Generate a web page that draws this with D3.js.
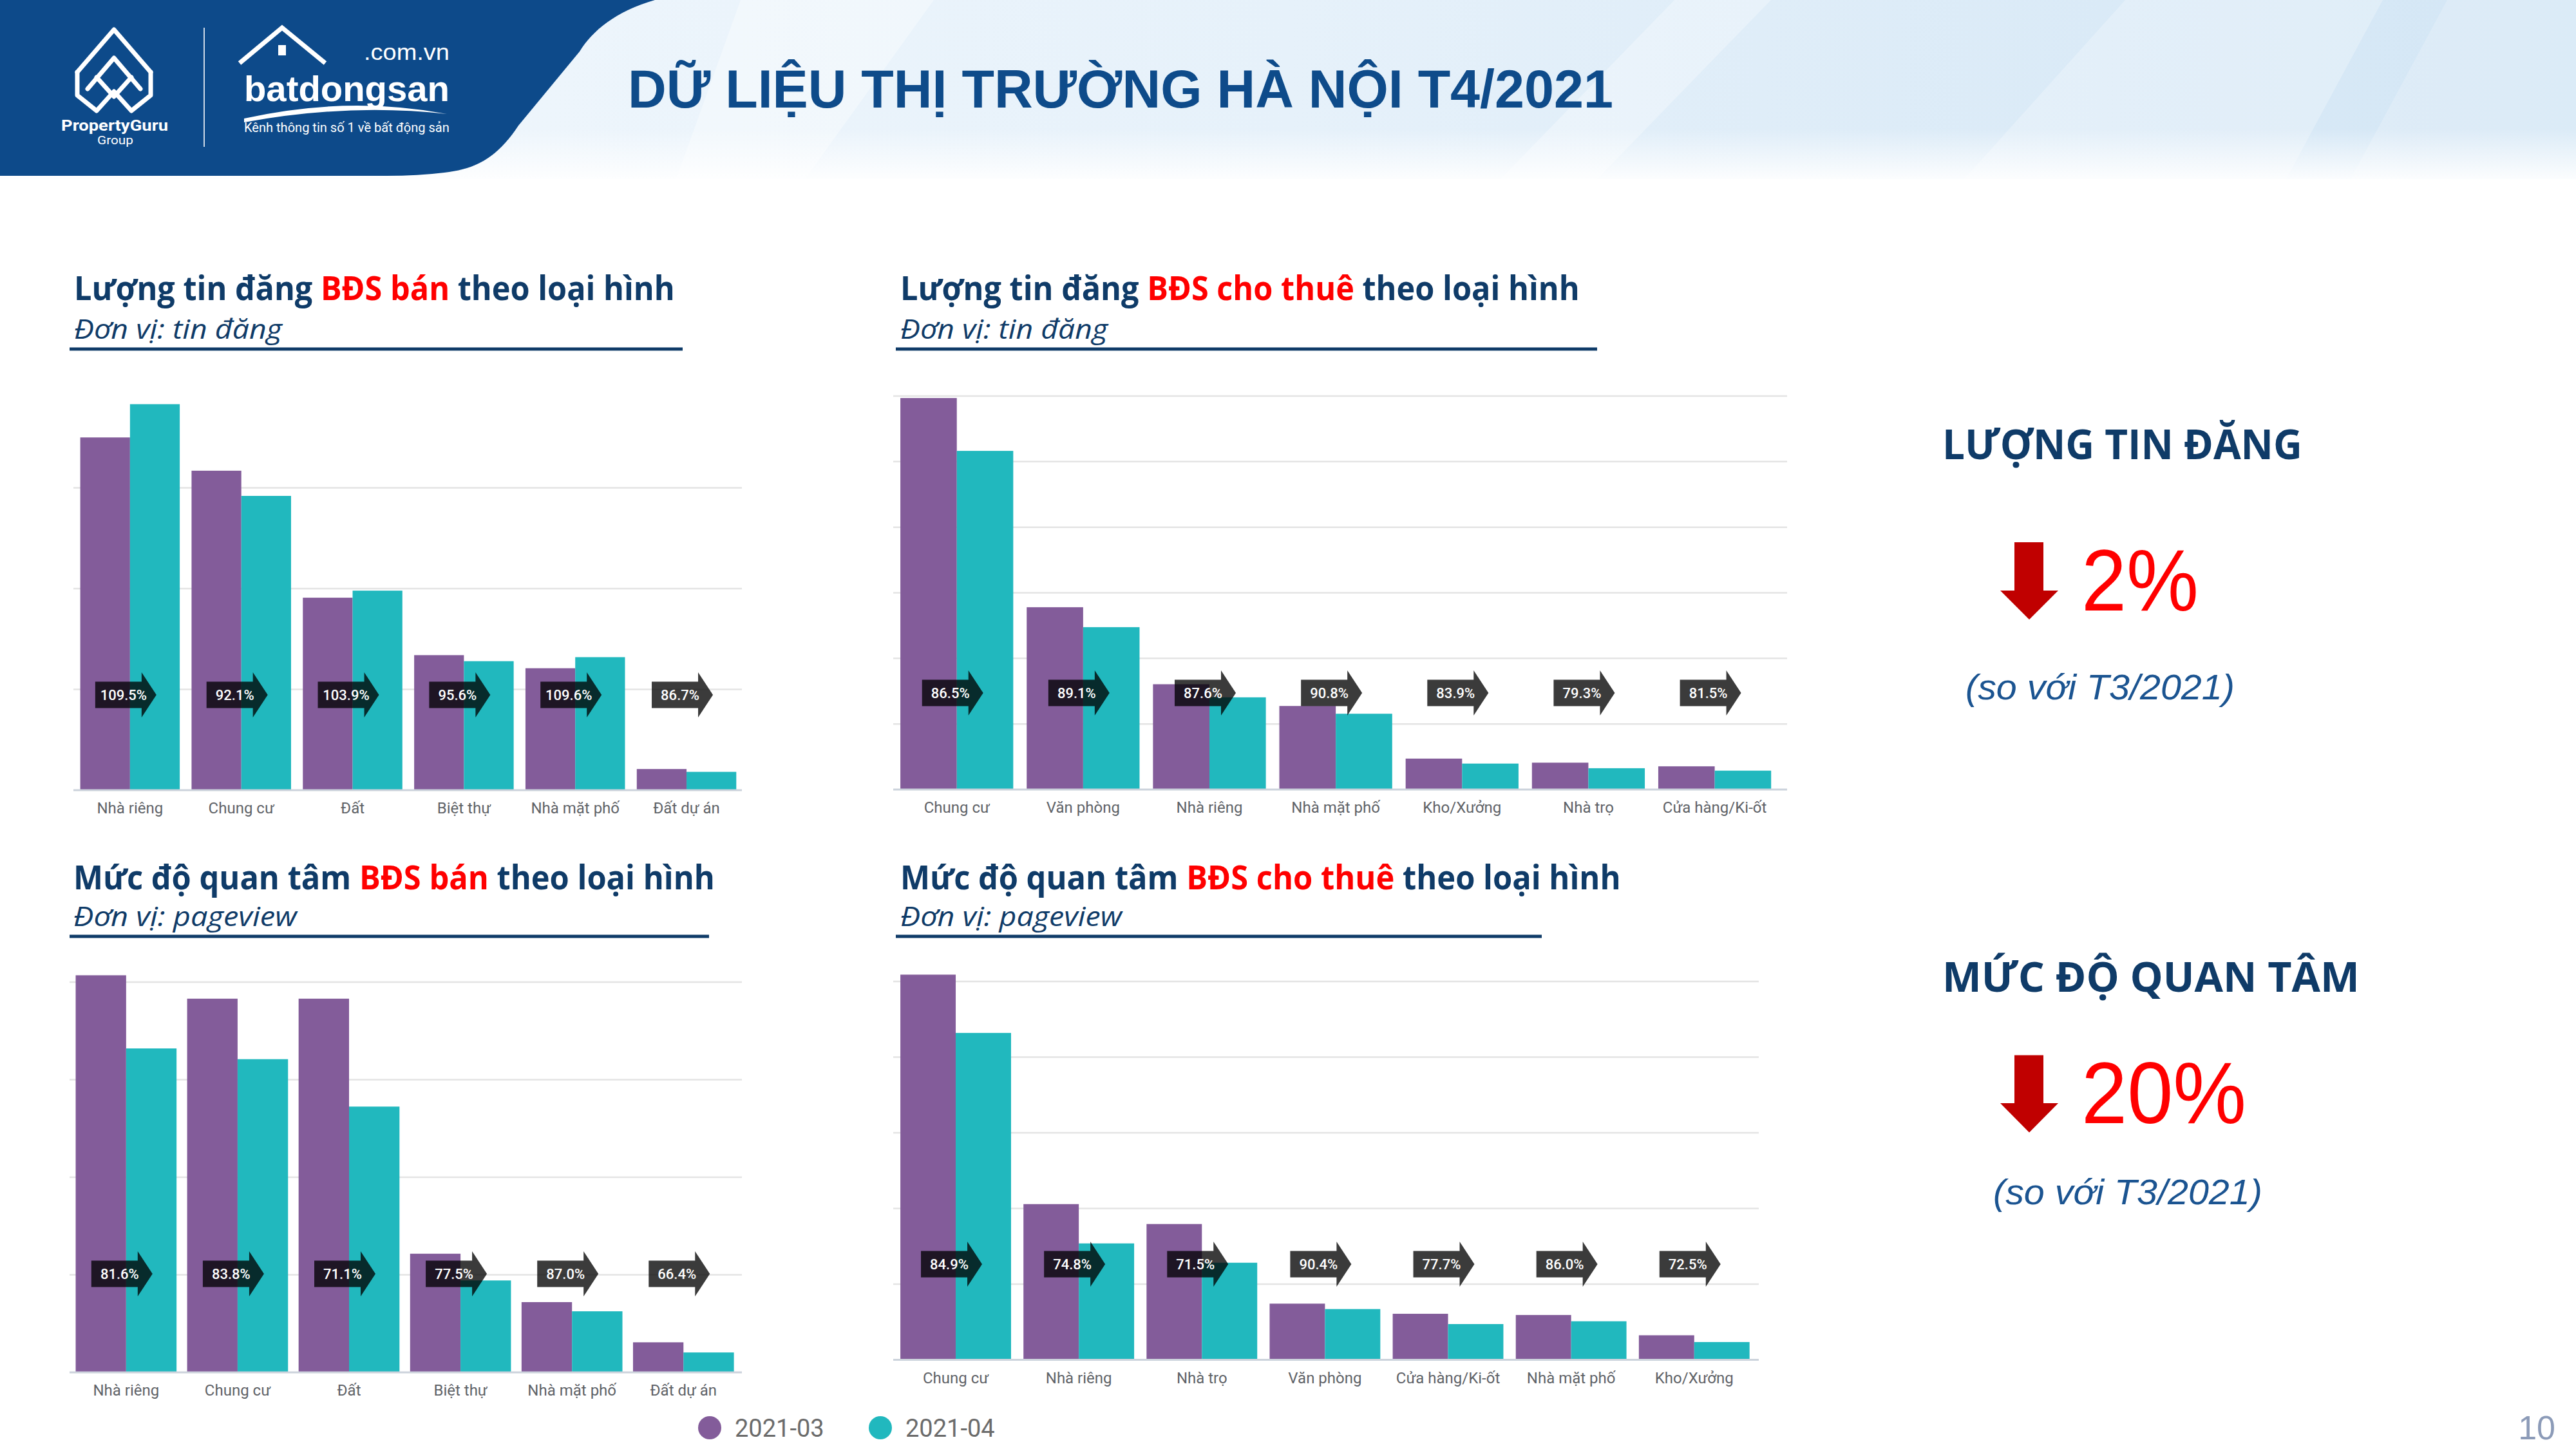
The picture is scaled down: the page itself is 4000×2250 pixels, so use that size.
<!DOCTYPE html>
<html><head><meta charset="utf-8">
<script src="https://cdn.jsdelivr.net/npm/d3@7"></script>
<style>body{margin:0;background:#fff}svg{display:block}</style>
</head><body>
<svg id="c" width="4000" height="2250"></svg>
<script>
// ---------- DATA ----------
const seriesNames = ["2021-03", "2021-04"];

// Chart 1: Lượng tin đăng BĐS bán (tin đăng)
const saleListCats = ["Nhà riêng", "Chung cư", "Đất", "Biệt thự", "Nhà mặt phố", "Đất dự án"];
const saleList03 = [35000, 31700, 19100, 13400, 12100, 2100];
const saleList04 = [38300, 29200, 19800, 12800, 13200, 1820];
const saleListPct = ["109.5%", "92.1%", "103.9%", "95.6%", "109.6%", "86.7%"];
const saleListGrid = [10000, 20000, 30000];

// Chart 2: Lượng tin đăng BĐS cho thuê (tin đăng)
const rentListCats = ["Chung cư", "Văn phòng", "Nhà riêng", "Nhà mặt phố", "Kho/Xưởng", "Nhà trọ", "Cửa hàng/Ki-ốt"];
const rentList03 = [29850, 13900, 8030, 6370, 2360, 2050, 1770];
const rentList04 = [25820, 12380, 7030, 5780, 1980, 1625, 1440];
const rentListPct = ["86.5%", "89.1%", "87.6%", "90.8%", "83.9%", "79.3%", "81.5%"];
const rentListGrid = [5000, 10000, 15000, 20000, 25000, 30000];

// Chart 3: Mức độ quan tâm BĐS bán (pageview)
const saleViewCats = ["Nhà riêng", "Chung cư", "Đất", "Biệt thự", "Nhà mặt phố", "Đất dự án"];
const saleView03 = [2035000, 1915000, 1915000, 608000, 360000, 154000];
const saleView04 = [1660000, 1605000, 1362000, 471000, 313000, 102000];
const saleViewPct = ["81.6%", "83.8%", "71.1%", "77.5%", "87.0%", "66.4%"];
const saleViewGrid = [500000, 1000000, 1500000, 2000000];

// Chart 4: Mức độ quan tâm BĐS cho thuê (pageview)
const rentViewCats = ["Chung cư", "Nhà riêng", "Nhà trọ", "Văn phòng", "Cửa hàng/Ki-ốt", "Nhà mặt phố", "Kho/Xưởng"];
const rentView03 = [1018000, 411600, 359000, 148600, 121800, 118600, 65000];
const rentView04 = [864000, 307800, 256700, 134300, 94600, 102000, 47100];
const rentViewPct = ["84.9%", "74.8%", "71.5%", "90.4%", "77.7%", "86.0%", "72.5%"];
const rentViewGrid = [200000, 400000, 600000, 800000, 1000000];

// Summary
const summaryHeads = ["LƯỢNG TIN ĐĂNG", "MỨC ĐỘ QUAN TÂM"];
const summaryValues = ["2%", "20%"];

// ---------- STYLE ----------
const PURPLE = "#835c9a", TEAL = "#21b8be", NAVY = "#0f3b68", RED = "#ff0000";
const svg = d3.select("#c");

function fitText(parent, x, y, width, build) {
  const g = parent.append("g");
  const t = g.append("text");
  build(t);
  const w = t.node().getComputedTextLength();
  g.attr("transform", `translate(${x},${y}) scale(${width / w},1)`);
  return g;
}

// ---------- HEADER ----------
const defs = svg.append("defs");
const hg = defs.append("linearGradient").attr("id", "hg").attr("x1", 0).attr("x2", 1).attr("y1", 0).attr("y2", 0);
hg.append("stop").attr("offset", 0).attr("stop-color", "#f2f8fd");
hg.append("stop").attr("offset", 0.5).attr("stop-color", "#e6f1fa");
hg.append("stop").attr("offset", 1).attr("stop-color", "#d3e6f5");
const vg = defs.append("linearGradient").attr("id", "vg").attr("x1", 0).attr("x2", 0).attr("y1", 0).attr("y2", 1);
vg.append("stop").attr("offset", 0).attr("stop-color", "#fff").attr("stop-opacity", 0);
vg.append("stop").attr("offset", 1).attr("stop-color", "#fff").attr("stop-opacity", 0.9);

svg.append("rect").attr("x", 0).attr("y", 0).attr("width", 4000).attr("height", 278).attr("fill", "url(#hg)");
[["M1150,0 L1450,0 L1250,278 L1050,278 Z", 0.35], ["M2600,0 L2750,0 L2480,278 L2330,278 Z", 0.3],
 ["M3300,0 L3700,0 L3550,278 L3050,278 Z", 0.25], ["M3800,0 L4000,0 L4000,278 L3650,278 Z", 0.2]]
  .forEach(([d, o]) => svg.append("path").attr("d", d).attr("fill", "#ffffff").attr("opacity", o));
svg.append("rect").attr("x", 0).attr("y", 200).attr("width", 4000).attr("height", 78).attr("fill", "url(#vg)");

// blue band
svg.append("path")
  .attr("d", "M0,0 L1017,0 C955,18 920,48 900,80 L805,195 C775,240 745,262 690,268 Q650,273 600,273 L0,273 Z")
  .attr("fill", "#0d4a8a");

// PropertyGuru logo (approximate)
const lg = svg.append("g").attr("fill", "none").attr("stroke", "#fff").attr("stroke-width", 7)
  .attr("stroke-linejoin", "round").attr("stroke-linecap", "round");
lg.append("path").attr("d", "M120,112 L177,46 L234,112");
lg.append("path").attr("d", "M136,138 L177,90 L218,138");
lg.append("path").attr("d", "M120,112 L120,148 L150,172 L177,142 L204,172 L234,148 L234,112");
lg.append("path").attr("d", "M150,120 L177,150 L204,120");
svg.append("text").attr("x", 178).attr("y", 203).attr("text-anchor", "middle").attr("fill", "#fff")
  .attr("font-family", "Roboto").attr("font-weight", 700).attr("font-size", 23).attr("textLength", 166)
  .attr("lengthAdjust", "spacingAndGlyphs").text("PropertyGuru");
svg.append("text").attr("x", 179).attr("y", 224).attr("text-anchor", "middle").attr("fill", "#fff")
  .attr("font-family", "Roboto").attr("font-size", 19).attr("textLength", 56)
  .attr("lengthAdjust", "spacingAndGlyphs").text("Group");
svg.append("line").attr("x1", 317).attr("x2", 317).attr("y1", 43).attr("y2", 228)
  .attr("stroke", "#fff").attr("stroke-width", 2).attr("opacity", 0.8);

// batdongsan logo
svg.append("path").attr("d", "M372,98 L438,43 L505,98").attr("fill", "none").attr("stroke", "#fff")
  .attr("stroke-width", 7).attr("stroke-linejoin", "miter");
svg.append("rect").attr("x", 432).attr("y", 70).attr("width", 12).attr("height", 16).attr("fill", "#fff");
fitText(svg, 565, 93, 133, t => t.attr("fill", "#fff").attr("font-family", "Liberation Sans")
  .attr("font-size", 36).text(".com.vn"));
fitText(svg, 379, 157, 319, t => t.attr("fill", "#fff").attr("font-family", "Liberation Sans")
  .attr("font-weight", 700).attr("font-size", 56).text("batdongsan"));
svg.append("path").attr("d", "M379,184 Q540,148 694,177 Q540,160 379,190 Z").attr("fill", "#fff");
fitText(svg, 379, 205, 319, t => t.attr("fill", "#fff").attr("font-family", "Roboto")
  .attr("font-size", 20).text("Kênh thông tin số 1 về bất động sản"));

// main title
fitText(svg, 975, 167, 1530, t => t.attr("fill", "#0e4b8a").attr("font-family", "Liberation Sans")
  .attr("font-weight", 700).attr("font-size", 84).text("DỮ LIỆU THỊ TRƯỜNG HÀ NỘI T4/2021"));

// ---------- CHARTS ----------
function drawTitle(cfg) {
  fitText(svg, cfg.tx, cfg.ty, cfg.tw, t => {
    t.attr("font-family", "Open Sans").attr("font-weight", 700).attr("font-size", 52).attr("fill", NAVY);
    t.append("tspan").text(cfg.t1);
    t.append("tspan").attr("fill", RED).text(cfg.t2);
    t.append("tspan").text(cfg.t3);
  });
  fitText(svg, cfg.tx, cfg.sy, cfg.sw, t => t.attr("font-family", "Open Sans").attr("font-style", "italic")
    .attr("font-size", 42).attr("fill", NAVY).text(cfg.sub));
  svg.append("rect").attr("x", cfg.ux0).attr("y", cfg.uy - 2.5).attr("width", cfg.ux1 - cfg.ux0)
    .attr("height", 5).attr("fill", NAVY);
}

function drawChart(cfg) {
  drawTitle(cfg);
  const g = svg.append("g");
  const y = d3.scaleLinear().domain([0, cfg.ymax]).range([cfg.base, cfg.top]);
  const x = d3.scaleBand().domain(cfg.cats).range([cfg.bx0, cfg.bx1]).paddingInner(cfg.pi).paddingOuter(0);
  const xi = d3.scaleBand().domain(seriesNames).range([0, x.bandwidth()]);
  g.selectAll(".grid").data(cfg.grid).join("line")
    .attr("x1", cfg.gx0).attr("x2", cfg.gx1).attr("y1", d => y(d)).attr("y2", d => y(d))
    .attr("stroke", "#e4e4e4").attr("stroke-width", 2.5);
  const rows = cfg.cats.map((c, i) => ({ c, vals: [cfg.v03[i], cfg.v04[i]], pct: cfg.pct[i] }));
  const grp = g.selectAll(".grp").data(rows).join("g").attr("transform", d => `translate(${x(d.c)},0)`);
  grp.selectAll("rect").data(d => d.vals.map((v, k) => ({ s: seriesNames[k], v }))).join("rect")
    .attr("x", d => xi(d.s)).attr("width", xi.bandwidth())
    .attr("y", d => y(d.v)).attr("height", d => y(0) - y(d.v))
    .attr("fill", d => d.s === seriesNames[0] ? PURPLE : TEAL);
  g.append("line").attr("x1", cfg.gx0).attr("x2", cfg.gx1).attr("y1", y(0)).attr("y2", y(0))
    .attr("stroke", "#ccd3dc").attr("stroke-width", 3);
  const ax = d3.axisBottom(x).tickSize(0).tickPadding(0);
  const axg = g.append("g").attr("transform", `translate(0,${y(0) + 36})`).call(ax);
  axg.select(".domain").remove();
  axg.selectAll("text").attr("font-family", "Roboto").attr("font-size", 24).attr("fill", "#5f6368").attr("dy", 0);
  const bw = x.bandwidth();
  const ar = grp.append("g").attr("transform", `translate(${bw / 2 - 54},${cfg.ay})`);
  ar.append("path").attr("d", "M0,-20.5 L72,-20.5 L72,-35 L95,0 L72,35 L72,20.5 L0,20.5 Z")
    .attr("fill", "#000").attr("fill-opacity", 0.77);
  ar.append("text").attr("x", 44).attr("y", 8).attr("text-anchor", "middle").attr("fill", "#fff")
    .attr("font-family", "Roboto").attr("font-weight", 500).attr("font-size", 22).text(d => d.pct);
}

drawChart({
  t1: "Lượng tin đăng ", t2: "BĐS bán", t3: " theo loại hình", sub: "Đơn vị: tin đăng",
  tx: 115, ty: 466, tw: 933, sy: 526, sw: 323, ux0: 108, ux1: 1060, uy: 542,
  cats: saleListCats, v03: saleList03, v04: saleList04, pct: saleListPct, grid: saleListGrid,
  ymax: 40000, base: 1227, top: 601, bx0: 124.6, bx1: 1143.3, pi: 0.106, gx0: 114, gx1: 1152, ay: 1079
});
drawChart({
  t1: "Lượng tin đăng ", t2: "BĐS cho thuê", t3: " theo loại hình", sub: "Đơn vị: tin đăng",
  tx: 1398, ty: 466, tw: 1055, sy: 526, sw: 322, ux0: 1391, ux1: 2480, uy: 542,
  cats: rentListCats, v03: rentList03, v04: rentList04, pct: rentListPct, grid: rentListGrid,
  ymax: 30000, base: 1226, top: 615, bx0: 1398.1, bx1: 2750.2, pi: 0.1065, gx0: 1387, gx1: 2775, ay: 1076
});
drawChart({
  t1: "Mức độ quan tâm ", t2: "BĐS bán", t3: " theo loại hình", sub: "Đơn vị: pageview",
  tx: 114, ty: 1381, tw: 996, sy: 1438, sw: 347, ux0: 108, ux1: 1101, uy: 1454,
  cats: saleViewCats, v03: saleView03, v04: saleView04, pct: saleViewPct, grid: saleViewGrid,
  ymax: 2000000, base: 2131, top: 1525, bx0: 117.5, bx1: 1139.6, pi: 0.095, gx0: 108, gx1: 1152, ay: 1978
});
drawChart({
  t1: "Mức độ quan tâm ", t2: "BĐS cho thuê", t3: " theo loại hình", sub: "Đơn vị: pageview",
  tx: 1398, ty: 1381, tw: 1119, sy: 1438, sw: 344, ux0: 1391, ux1: 2394, uy: 1454,
  cats: rentViewCats, v03: rentView03, v04: rentView04, pct: rentViewPct, grid: rentViewGrid,
  ymax: 1000000, base: 2111.6, top: 1524, bx0: 1398.1, bx1: 2716.7, pi: 0.1008, gx0: 1387, gx1: 2731, ay: 1963
});

// legend
const legX = [1102, 1367];
seriesNames.forEach((s, i) => {
  svg.append("circle").attr("cx", legX[i]).attr("cy", 2217).attr("r", 18).attr("fill", i ? TEAL : PURPLE);
  svg.append("text").attr("x", legX[i] + 39).attr("y", 2231).attr("font-family", "Roboto")
    .attr("font-size", 38).attr("fill", "#6b6b6b").text(s);
});

// ---------- SUMMARY PANEL ----------
const sumLayout = [
  { hy: 713, hw: 559, a0: 842, a1: 917, a2: 962, vy: 948, vw: 182, cx: 3052, cy: 1086 },
  { hy: 1540, hw: 648, a0: 1638.5, a1: 1713, a2: 1758.5, vy: 1744, vw: 256, cx: 3095, cy: 1870 }
];
sumLayout.forEach((L, i) => {
  fitText(svg, 3016, L.hy, L.hw, t => t.attr("font-family", "Open Sans").attr("font-weight", 700)
    .attr("font-size", 64).attr("fill", NAVY).text(summaryHeads[i]));
  svg.append("path").attr("d", `M3128,${L.a0} L3173,${L.a0} L3173,${L.a1} L3196,${L.a1} L3151,${L.a2} L3106,${L.a1} L3128,${L.a1} Z`)
    .attr("fill", "#c00000");
  fitText(svg, 3232, L.vy, L.vw, t => t.attr("font-family", "Liberation Sans").attr("font-size", 135)
    .attr("fill", RED).text(summaryValues[i]));
  fitText(svg, L.cx, L.cy, 418, t => t.attr("font-family", "Liberation Sans").attr("font-style", "italic")
    .attr("font-size", 56).attr("fill", "#1b5491").text("(so với T3/2021)"));
});

// page number
svg.append("text").attr("x", 3968).attr("y", 2235).attr("text-anchor", "end").attr("font-family", "Liberation Sans")
  .attr("font-size", 52).attr("fill", "#8c9bb8").text("10");
</script>
</body></html>
